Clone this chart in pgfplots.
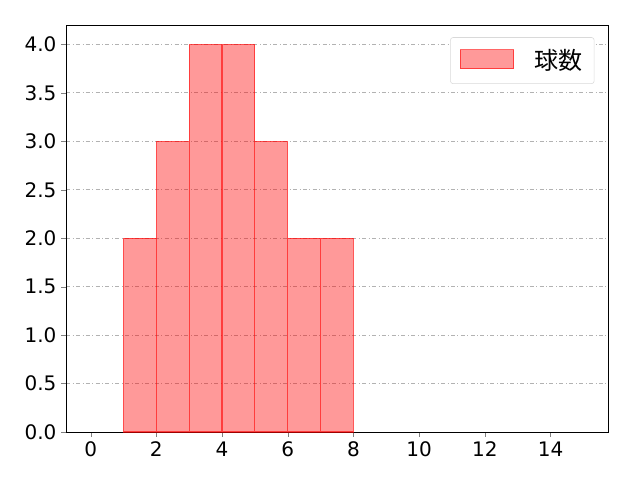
\documentclass[border=0pt]{standalone}
\usepackage{pgfplots}
\pgfplotsset{compat=1.18}
\usepackage{fontspec}
\setmainfont{DejaVu Sans}
\newfontfamily\cjk{Noto Sans CJK JP}
\begin{document}
\begin{tikzpicture}
\useasboundingbox (0pt,0pt) rectangle (480pt,360pt);
\begin{axis}[
    at={(49.5pt,36pt)},anchor=south west,
    scale only axis,
    width=406.5pt,height=305.25pt,
    xmin=-0.75,xmax=15.75,
    ymin=0,ymax=4.2,
    xtick={0,2,...,14},
    ytick={0,0.5,...,4.0},
    yticklabel style={/pgf/number format/.cd,fixed,fixed zerofill,precision=1},
    tick label style={/pgf/number format/assume math mode=true,font=\fontsize{15}{18}\selectfont},
    tick align=outside,
    major tick length=3.65pt,
    xtick pos=bottom,ytick pos=left,
    ymajorgrids,
    grid style={gray!60,dash dot,line width=0.6pt},
    axis line style={line width=0.6pt},
    legend style={at={(0.975,0.97)},anchor=north east,
        font=\cjk\fontsize{18}{20}\selectfont,
        draw=black!15,rounded corners=2pt,
        inner xsep=7pt,inner ysep=7pt},
    legend image code/.code={\draw[#1,sharp corners] (0pt,-6pt) rectangle (40pt,8pt);},
]
\addplot[ybar interval,fill=red,fill opacity=0.4,draw=red,draw opacity=0.6,line width=0.8pt]
    coordinates {
        (1,2) (2,3) (3,4) (4,4) (5,3) (6,2) (7,2) (8,2)
    };
\addlegendentry{\hspace{13pt}球数}
\end{axis}
\end{tikzpicture}
\end{document}
